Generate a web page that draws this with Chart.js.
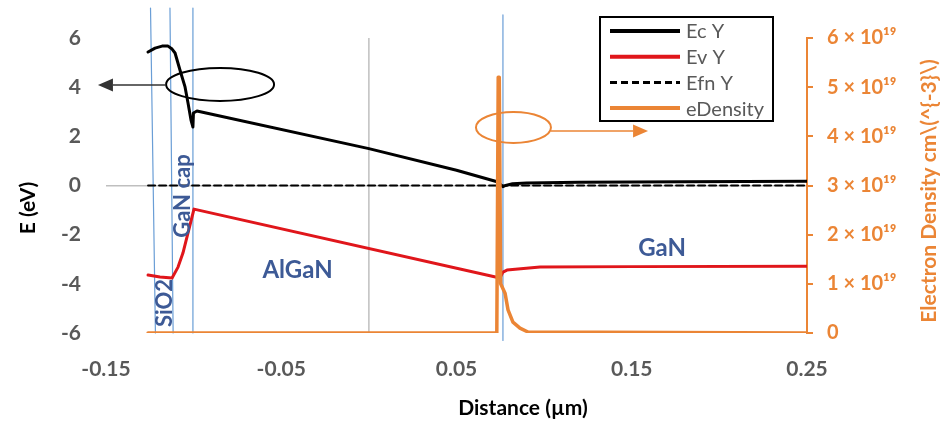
<!DOCTYPE html>
<html><head><meta charset="utf-8">
<script src="https://cdn.jsdelivr.net/npm/chart.js@4.4.0/dist/chart.umd.min.js"></script>
<style>html,body{margin:0;padding:0;background:#fff;}#wrap{width:946px;height:423px;position:relative;}</style>
</head><body><div id="wrap"><canvas id="c" width="946" height="423"></canvas></div>
<script>
// ---- tick labels ----
const xTicks = [-0.15, -0.05, 0.05, 0.15, 0.25];
const yTicks = [-6, -4, -2, 0, 2, 4, 6];
const densityTicks = [0, 1e19, 2e19, 3e19, 4e19, 5e19, 6e19];

// ---- series ----
const ecX = [-0.126,-0.122,-0.118,-0.1146,-0.1123,-0.1106,-0.1078,-0.1049,-0.1032,-0.1015,-0.1004,-0.1001,-0.0981,0.0,0.05,0.0737,0.0765,0.078,0.082,0.09,0.12,0.18,0.25];
const ecY = [5.43,5.59,5.67,5.67,5.55,5.39,4.70,4.01,3.36,2.66,2.38,2.95,3.03,1.50,0.62,0.14,-0.05,0.0,0.07,0.10,0.13,0.15,0.17];

const evX = [-0.126,-0.1192,-0.1123,-0.1089,-0.1061,-0.1032,-0.1009,-0.0998,0.0748,0.0765,0.0788,0.0977,0.15,0.25];
const evY = [-3.64,-3.72,-3.76,-3.32,-2.75,-1.93,-1.28,-0.96,-3.76,-3.52,-3.44,-3.32,-3.30,-3.28];

const efnX = [-0.126, 0.25];
const efnY = [0, 0];

const denX = [-0.126,0.0730,0.0738,0.0744,0.0752,0.0777,0.0794,0.0822,0.0862,0.0908,0.25];
const denY = [0,0,5.2e19,5.2e19,1.0e19,0.81e19,0.47e19,0.22e19,0.10e19,0.02e19,0];

// layer boundaries (x at top / bottom, E at top / bottom)
const bound1X = [-0.1246,-0.1218], bound1E = [7.22,-6];
const bound2X = [-0.1135,-0.1117], bound2E = [7.22,-6];
const bound3X = [-0.1004,-0.1004], bound3E = [7.22,-6];
const bound4X = [0.0765,0.0765],  bound4E = [6.94,-6.3];

// region labels
const regionNames = ['SiO2','GaN cap','AlGaN','GaN'];

// ---- styles / annotation placement (data units) ----
const C_EC='#000000', C_EV='#E0161B', C_OR='#EB8535', C_BLUE='#6A9ED6', C_GRAY='#BFBFBF', C_TXT='#595959', C_REG='#3D5A96';
const FONT='Lato, "Open Sans", sans-serif';
const regionPlace = [
  {x:-0.1163,y:-4.78,rot:true,size:22},
  {x:-0.1063,y:-0.43,rot:true,size:22},
  {x:-0.0407,y:-3.44,rot:false,size:24},
  {x:0.1673,y:-2.54,rot:false,size:24}
];
const blackMark = {cx:-0.0849, cy:4.11, rx:0.0308, ry:0.671, from:-0.1158, to:-0.1546, ay:4.09};
const orangeMark = {cx:0.0825, cy:4.18e19, rx:0.0214, ry:0.315e19, from:0.1039, to:0.1593, ay:4.108e19};

const pts = (xs, ys) => xs.map((v,i)=>({x:v, y:ys[i]}));
const boundDs = (xs, es) => ({label:'_b', data:pts(xs,es), showLine:true, borderColor:C_BLUE, borderWidth:1.2, pointRadius:0, clip:false, order:10, yAxisID:'y'});

const extras = {
  id:'extras',
  beforeDatasetsDraw(chart){
    const {ctx, chartArea:a, scales:{x}} = chart;
    const p = x.getPixelForValue(0);
    ctx.save(); ctx.strokeStyle=C_GRAY; ctx.lineWidth=1.5;
    ctx.beginPath(); ctx.moveTo(p,a.top); ctx.lineTo(p,a.bottom); ctx.stroke(); ctx.restore();
  },
  afterDatasetsDraw(chart){
    const {ctx, scales:{x,y,y1}} = chart;
    ctx.save();
    const drawMark = (m, ys, color, lineColor) => {
      const cx=x.getPixelForValue(m.cx), cy=ys.getPixelForValue(m.cy);
      const rx=Math.abs(x.getPixelForValue(m.cx+m.rx)-cx), ry=Math.abs(ys.getPixelForValue(m.cy+m.ry)-cy);
      ctx.strokeStyle=color; ctx.lineWidth=2;
      ctx.beginPath(); ctx.ellipse(cx,cy,rx,ry,0,0,Math.PI*2); ctx.stroke();
      const x1=x.getPixelForValue(m.from), x2=x.getPixelForValue(m.to), ay=ys.getPixelForValue(m.ay);
      const dir = Math.sign(x2-x1), head=15;
      ctx.strokeStyle=lineColor; ctx.lineWidth=1.5;
      ctx.beginPath(); ctx.moveTo(x1,ay); ctx.lineTo(x2-dir*head,ay); ctx.stroke();
      ctx.fillStyle=lineColor;
      ctx.beginPath(); ctx.moveTo(x2,ay); ctx.lineTo(x2-dir*head,ay-6.5); ctx.lineTo(x2-dir*head,ay+6.5); ctx.closePath(); ctx.fill();
    };
    drawMark(blackMark, y, '#000000', '#333333');
    drawMark(orangeMark, y1, C_OR, C_OR);
    ctx.fillStyle=C_REG; ctx.textAlign='center'; ctx.textBaseline='middle';
    regionNames.forEach((t,i)=>{
      const r=regionPlace[i];
      ctx.save();
      ctx.translate(x.getPixelForValue(r.x), y.getPixelForValue(r.y));
      if(r.rot) ctx.rotate(-Math.PI/2);
      ctx.font='bold '+r.size+'px '+FONT;
      ctx.fillText(t,0,0);
      ctx.restore();
    });
    ctx.fillStyle='#000'; ctx.font='bold 21px '+FONT;
    ctx.save(); ctx.translate(28,208); ctx.rotate(-Math.PI/2); ctx.fillText('E (eV)',0,0); ctx.restore();
    ctx.fillText('Distance (\u00b5m)',523,408);
    ctx.fillStyle=C_OR;
    ctx.save(); ctx.translate(929,191); ctx.rotate(-Math.PI/2); ctx.fillText('Electron Density cm\\(^{-3}\\)',0,0); ctx.restore();
    const L={x:600,y:17,w:173,h:104};
    ctx.fillStyle='#fff'; ctx.fillRect(L.x,L.y,L.w,L.h);
    ctx.strokeStyle='#000'; ctx.lineWidth=2; ctx.strokeRect(L.x,L.y,L.w,L.h);
    const order=['Ec Y','Ev Y','Efn Y','eDensity'];
    ctx.font='20px '+FONT; ctx.textAlign='left'; ctx.textBaseline='middle';
    order.forEach((lab,i)=>{
      const ds=chart.data.datasets.find(d=>d.label===lab);
      const yy=L.y+14+i*25.7;
      ctx.strokeStyle=ds.borderColor; ctx.lineWidth=ds.borderDash?3:4;
      ctx.setLineDash(ds.borderDash||[]);
      ctx.beginPath(); ctx.moveTo(L.x+10,yy); ctx.lineTo(L.x+80,yy); ctx.stroke();
      ctx.setLineDash([]);
      ctx.fillStyle=C_TXT; ctx.fillText(lab,L.x+86,yy+1);
    });
    ctx.restore();
  }
};

new Chart(document.getElementById('c'), {
  type:'scatter',
  data:{datasets:[
    {label:'eDensity', data:pts(denX,denY), showLine:true, borderColor:C_OR, borderWidth:3.5, pointRadius:0, yAxisID:'y1', order:0},
    {label:'Efn Y', data:pts(efnX,efnY), showLine:true, borderColor:'#000', borderWidth:2, borderDash:[7,4], pointRadius:0, yAxisID:'y', order:1},
    {label:'Ec Y', data:pts(ecX,ecY), showLine:true, borderColor:C_EC, borderWidth:3, pointRadius:0, yAxisID:'y', order:2},
    {label:'Ev Y', data:pts(evX,evY), showLine:true, borderColor:C_EV, borderWidth:3, pointRadius:0, yAxisID:'y', order:3},
    boundDs(bound1X,bound1E), boundDs(bound2X,bound2E), boundDs(bound3X,bound3E), boundDs(bound4X,bound4E)
  ]},
  options:{
    responsive:false, animation:false, devicePixelRatio:1,
    layout:{padding:{top:38,left:0,right:0,bottom:0}},
    plugins:{legend:{display:false}, tooltip:{enabled:false}},
    elements:{line:{tension:0, borderJoinStyle:'round', borderCapStyle:'round'}},
    scales:{
      x:{type:'linear', position:'bottom', min:-0.15, max:0.25,
        afterBuildTicks:s=>{s.ticks=xTicks.map(v=>({value:v}));},
        afterFit:s=>{s.height=90;},
        grid:{display:false, drawTicks:false}, border:{display:false},
        ticks:{padding:24, color:C_TXT, font:{family:FONT,size:21,weight:'bold'}, callback:v=>String(v)}},
      y:{type:'linear', position:'left', min:-6, max:6,
        afterBuildTicks:s=>{s.ticks=yTicks.map(v=>({value:v}));},
        afterFit:s=>{s.width=106;},
        grid:{drawTicks:false, color:c=>c.tick&&c.tick.value===0?C_GRAY:'rgba(0,0,0,0)', lineWidth:1.5},
        border:{display:false},
        ticks:{padding:25, color:C_TXT, font:{family:FONT,size:21,weight:'bold'}}},
      y1:{type:'linear', position:'right', min:0, max:6e19,
        afterBuildTicks:s=>{s.ticks=densityTicks.map(v=>({value:v}));},
        afterFit:s=>{s.width=139;},
        grid:{drawOnChartArea:false, drawTicks:true, tickLength:6, color:C_OR, lineWidth:2},
        border:{display:true, color:C_OR, width:2},
        ticks:{padding:14, color:C_OR, font:{family:FONT,size:20,weight:'bold'},
          callback:v=> v===0 ? '0' : (Math.round(v/1e19))+' \u00d7 10\u00b9\u2079'}}
    }
  },
  plugins:[extras]
});
</script></body></html>
